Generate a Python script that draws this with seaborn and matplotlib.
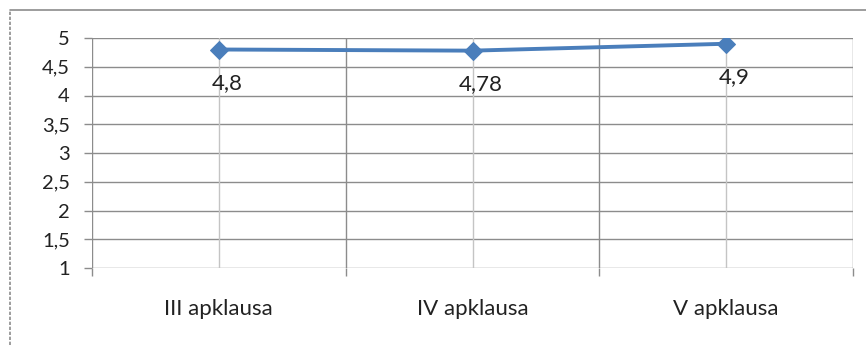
import matplotlib
matplotlib.use("Agg")
import matplotlib.pyplot as plt
from matplotlib.lines import Line2D
import numpy as np
import pandas as pd
import seaborn as sns

# Survey rounds and average scores
categories = ["III apklausa", "IV apklausa", "V apklausa"]
scores = [4.8, 4.78, 4.9]
value_labels = ["4,8", "4,78", "4,9"]
y_ticks = [1, 1.5, 2, 2.5, 3, 3.5, 4, 4.5, 5]
y_tick_labels = ["1", "1,5", "2", "2,5", "3", "3,5", "4", "4,5", "5"]

sns.set_theme(style="white")
plt.rcParams["font.family"] = ["Lato", "DejaVu Sans"]

df = pd.DataFrame({"round": categories, "score": scores})

fig = plt.figure(figsize=(8.66, 3.45), dpi=100)
ax = fig.add_axes([92 / 866, 1 - 268 / 345, (853 - 92) / 866, (268 - 38) / 345])

line_color = "#4A7EBB"
sns.lineplot(data=df, x="round", y="score", ax=ax, sort=False, color=line_color,
             linewidth=2.8, marker="D", markersize=9.5, markeredgecolor=line_color,
             markerfacecolor=line_color, zorder=5)

ax.set_xlim(-0.5, len(categories) - 0.5)
ax.set_ylim(1, 5)
ax.set_xlabel("")
ax.set_ylabel("")

# Horizontal gridlines
for yv in y_ticks:
    ax.axhline(yv, color="#8c8c8c", linewidth=1.0, zorder=1)
# Vertical lines: category centres (light) and category boundaries (dark)
for i in range(len(categories)):
    ax.axvline(i, color="#c4c4c4", linewidth=1.0, zorder=1)
for b in np.arange(-0.5, len(categories), 1.0):
    ax.axvline(b, color="#8c8c8c", linewidth=1.0, zorder=1)

for s in ax.spines.values():
    s.set_visible(False)

ax.set_yticks(y_ticks)
ax.set_yticklabels(y_tick_labels)
ax.tick_params(axis="y", which="major", left=True, length=6, width=1.0, color="#8c8c8c",
               pad=10, labelsize=14.5, labelcolor="#222222")

ax.set_xticks(range(len(categories)))
ax.set_xticklabels(categories)
ax.set_xticks(np.arange(-0.5, len(categories), 1.0), minor=True)
ax.tick_params(axis="x", which="major", bottom=True, length=0, pad=22,
               labelsize=16, labelcolor="#222222")
ax.tick_params(axis="x", which="minor", bottom=True, length=6, width=1.0, color="#8c8c8c")

for i, (v, t) in enumerate(zip(scores, value_labels)):
    ax.annotate(t, (i, v), xytext=(6, -24), textcoords="offset points",
                ha="center", va="center", fontsize=16, color="#222222", zorder=6)

# Chart frame
fig.add_artist(Line2D([10 / 866, 1], [1 - 10 / 345, 1 - 10 / 345],
                      transform=fig.transFigure, color="#8c8c8c", linewidth=1.2))
fig.add_artist(Line2D([10 / 866, 10 / 866], [0, 1 - 10 / 345],
                      transform=fig.transFigure, color="#8c8c8c", linewidth=1.2,
                      linestyle=(0, (2, 1))))

fig.savefig("out.png", dpi=100)
